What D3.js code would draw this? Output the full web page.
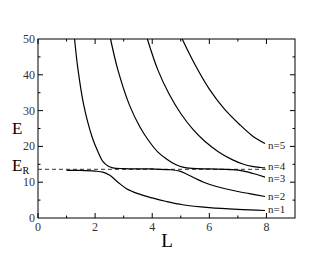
<!DOCTYPE html>
<html>
<head>
<meta charset="utf-8">
<script src="https://cdn.jsdelivr.net/npm/d3@7"></script>
<style>
  body { margin: 0; background: #fff; }
  text { font-family: "Liberation Serif", "Times New Roman", serif; }
</style>
</head>
<body>
<script>
// energy branches, [L, E]
var n1 = [[1.0,13.3],[1.5,13.3],[2.0,13.1],[2.27,12.8],[2.5,12.0],[2.8,10.0],[3.1,8.2],[3.5,6.8],[4.0,5.6],[4.5,4.6],[5.07,3.7],[6.0,2.9],[7.0,2.4],[7.95,2.1]];
var n2 = [[1.28,50],[1.4,41.5],[1.6,31.6],[1.9,22.5],[2.1,18.5],[2.27,15.8],[2.45,14.5],[2.62,14.0],[3.0,13.8],[4.0,13.7],[4.6,13.5],[4.96,13.1],[5.2,12.3],[5.5,11.1],[5.8,10.0],[6.25,8.8],[7.0,7.4],[7.4,6.8],[7.95,6.0]];
var n3 = [[2.54,50],[2.8,41.3],[3.2,31.6],[3.57,25.4],[3.84,22],[4.2,18.4],[4.5,16.5],[4.8,15.0],[5.07,14.2],[5.4,13.85],[6.0,13.7],[6.8,13.5],[7.2,13.1],[7.6,12.3],[7.95,11.4]];
var n4 = [[3.83,50],[4.2,41.3],[4.6,34.5],[5.0,29.2],[5.42,24.8],[5.83,21.5],[6.3,18.6],[6.8,16.3],[7.2,15.0],[7.5,14.4],[7.8,14.1],[7.95,14.0]];
var n5 = [[5.05,50],[5.5,42.8],[6.0,36],[6.5,30.7],[7.05,26.2],[7.5,23],[7.95,20.8]];
var branches = [n1, n2, n3, n4, n5];
var branchLabels = ["n=1","n=2","n=3","n=4","n=5"];
var labelE = [2.4, 5.9, 11.1, 14.4, 20.2];
var ER = 13.6;
var xTicks = [0,2,4,6,8];
var yTicks = [0,10,20,30,40,50];

var w = 332, h = 257;
var svg = d3.select("body").append("svg")
    .attr("width", w)
    .attr("height", h);

var x = d3.scaleLinear().domain([0,9]).range([38,295]);
var y = d3.scaleLinear().domain([0,50]).range([218,39]);

// frame
svg.append("rect")
    .attr("x", x(0)).attr("y", y(50))
    .attr("width", x(9)-x(0)).attr("height", y(0)-y(50))
    .attr("fill", "none").attr("stroke", "#000").attr("stroke-width", 1);

// ticks, pointing inward on all sides
var xMinor = d3.range(1,9,2), yMinor = d3.range(5,50,10);
function addTicks(g, vals, len, horiz) {
    vals.forEach(function(v){
        if (horiz) {
            g.append("line").attr("x1", x(v)).attr("x2", x(v)).attr("y1", y(0)).attr("y2", y(0)-len);
            g.append("line").attr("x1", x(v)).attr("x2", x(v)).attr("y1", y(50)).attr("y2", y(50)+len);
        } else {
            g.append("line").attr("y1", y(v)).attr("y2", y(v)).attr("x1", x(0)).attr("x2", x(0)+len);
            g.append("line").attr("y1", y(v)).attr("y2", y(v)).attr("x1", x(9)).attr("x2", x(9)-len);
        }
    });
}
var tg = svg.append("g").attr("stroke", "#000").attr("stroke-width", 1);
addTicks(tg, xTicks, 5, true);
addTicks(tg, xMinor, 2.5, true);
addTicks(tg, yTicks.slice(1,5), 5, false);
addTicks(tg, yMinor, 2.5, false);

svg.selectAll("text.xt")
    .data(xTicks)
    .enter()
    .append("text")
    .attr("x", function(d){ return x(d); })
    .attr("y", 231)
    .attr("text-anchor", "middle")
    .attr("font-size", "12px")
    .attr("fill", "#333")
    .text(function(d){ return d; });

svg.selectAll("text.yt")
    .data(yTicks)
    .enter()
    .append("text")
    .attr("x", 35)
    .attr("y", function(d){ return y(d) + 4; })
    .attr("text-anchor", "end")
    .attr("font-size", "12px")
    .attr("fill", "#333")
    .text(function(d){ return d; });

// resonance level
svg.append("line")
    .attr("x1", x(0)).attr("x2", x(8))
    .attr("y1", y(ER)).attr("y2", y(ER))
    .attr("stroke", "#333").attr("stroke-width", 1)
    .attr("stroke-dasharray", "4,3");

var line = d3.line()
    .x(function(d){ return x(d[0]); })
    .y(function(d){ return y(d[1]); })
    .curve(d3.curveCatmullRom.alpha(0.5));

svg.selectAll("path.br")
    .data(branches)
    .enter()
    .append("path")
    .attr("d", line)
    .attr("fill", "none")
    .attr("stroke", "#000")
    .attr("stroke-width", 1.2);

svg.selectAll("text.nl")
    .data(branchLabels)
    .enter()
    .append("text")
    .attr("x", 268)
    .attr("y", function(d,i){ return y(labelE[i]) + 3.5; })
    .attr("font-size", "11px")
    .attr("fill", "#222")
    .text(function(d){ return d; });

// axis titles
svg.append("text")
    .attr("x", 12).attr("y", 134)
    .attr("font-size", "17px")
    .text("E");
var er = svg.append("text")
    .attr("x", 12).attr("y", 171)
    .attr("font-size", "17px")
    .text("E");
er.append("tspan").attr("font-size", "10px").attr("dy", 3).text("R");
svg.append("text")
    .attr("x", 167).attr("y", 247)
    .attr("text-anchor", "middle")
    .attr("font-size", "19px")
    .text("L");
</script>
</body>
</html>
